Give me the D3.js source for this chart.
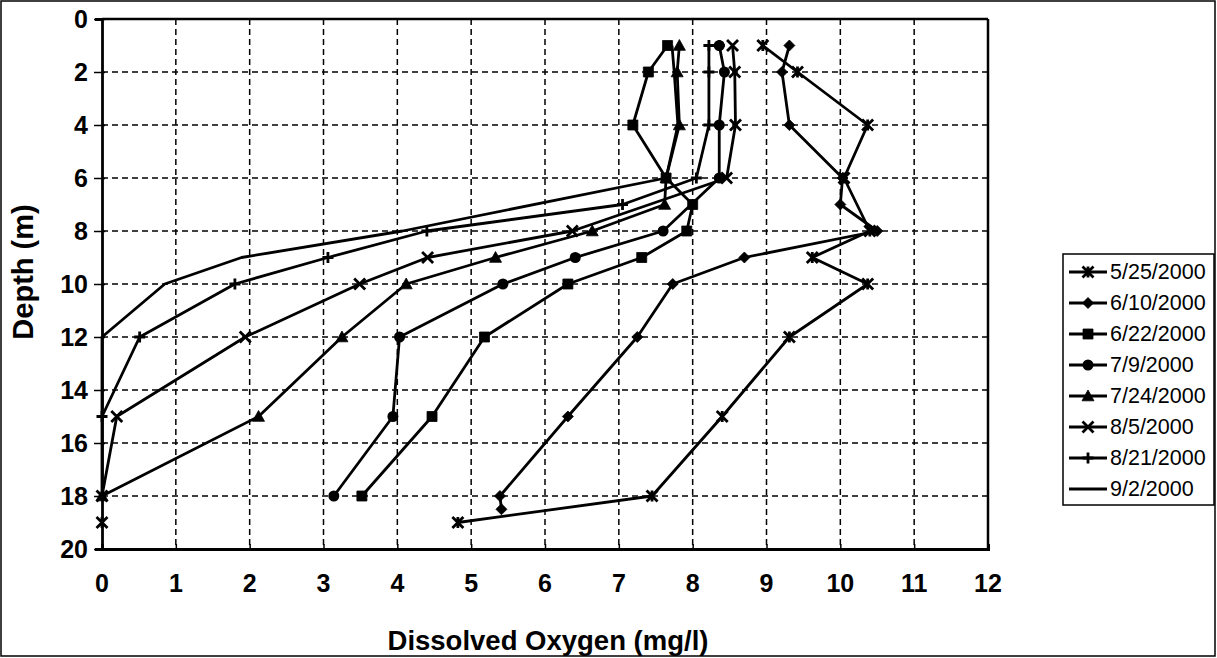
<!DOCTYPE html>
<html>
<head>
<meta charset="utf-8">
<script src="https://cdn.jsdelivr.net/npm/d3@7"></script>
<style>
  html, body { margin: 0; padding: 0; background: #fff; }
  svg { display: block; font-family: "Liberation Sans", Arial, sans-serif; }
</style>
</head>
<body>
<svg id="chart" width="1217" height="658"></svg>
<script>
// ---------- DATA ----------
const seriesNames = ["5/25/2000","6/10/2000","6/22/2000","7/9/2000","7/24/2000","8/5/2000","8/21/2000","9/2/2000"];
const markerTypes = ["asterisk","diamond","square","circle","triangle","x","plus","none"];

const do_0525    = [8.95, 9.42, 10.37, 10.05, 10.4, 9.62, 10.37, 9.31, 8.40, 7.45, 4.82];
const depth_0525 = [1, 2, 4, 6, 8, 9, 10, 12, 15, 18, 19];

const do_0610    = [9.31, 9.21, 9.31, 10.03, 10.0, 10.5, 8.70, 7.73, 7.25, 6.31, 5.39, 5.41];
const depth_0610 = [1, 2, 4, 6, 7, 8, 9, 10, 12, 15, 18, 18.5];

const do_0622    = [7.66, 7.40, 7.19, 7.64, 8.00, 7.92, 7.31, 6.31, 5.18, 4.47, 3.52];
const depth_0622 = [1, 2, 4, 6, 7, 8, 9, 10, 12, 15, 18];

const do_0709    = [8.36, 8.43, 8.36, 8.36, 7.60, 6.41, 5.43, 4.03, 3.94, 3.14];
const depth_0709 = [1, 2, 4, 6, 8, 9, 10, 12, 15, 18];

const do_0724    = [7.82, 7.79, 7.82, 7.64, 7.62, 6.64, 5.33, 4.12, 3.25, 2.12, 0];
const depth_0724 = [1, 2, 4, 6, 7, 8, 9, 10, 12, 15, 18];

const do_0805    = [8.54, 8.57, 8.58, 8.46, 6.37, 4.41, 3.49, 1.94, 0.2, 0];
const depth_0805 = [1, 2, 4, 6, 8, 9, 10, 12, 15, 18];

const do_0821    = [8.36, 8.22, 8.22, 8.22, 8.05, 7.05, 4.40, 3.06, 1.80, 0.51, 0];
const depth_0821 = [1, 1, 2, 4, 6, 7, 8, 9, 10, 12, 15];

const do_0902    = [7.72, 7.75, 7.80, 7.64, 4.07, 1.89, 0.85, 0, 0, 0];
const depth_0902 = [1, 2, 4, 6, 8, 9, 10, 12, 15, 18];

// isolated reading drawn with the 5/25 marker
const extraDO    = [0];
const extraDepth = [19];

const xTickValues = [0,1,2,3,4,5,6,7,8,9,10,11,12];
const yTickValues = [0,2,4,6,8,10,12,14,16,18,20];

const allDO    = [do_0525, do_0610, do_0622, do_0709, do_0724, do_0805, do_0821, do_0902];
const allDepth = [depth_0525, depth_0610, depth_0622, depth_0709, depth_0724, depth_0805, depth_0821, depth_0902];

const series = seriesNames.map((name, i) => ({
  name, marker: markerTypes[i],
  points: allDO[i].map((v, j) => ({ v, depth: allDepth[i][j] }))
}));

// ---------- LAYOUT ----------
const svg = d3.select("#chart");
const plot = { left: 102, right: 988, top: 19, bottom: 549 };

const x = d3.scaleLinear().domain([0, 12]).range([plot.left, plot.right]);
const y = d3.scaleLinear().domain([0, 20]).range([plot.top, plot.bottom]);

// outer chart border
svg.append("rect").attr("x", 1).attr("y", 1).attr("width", 1214).attr("height", 655)
  .attr("fill", "none").attr("stroke", "#000").attr("stroke-width", 1.5);

// grid
const grid = svg.append("g").attr("stroke", "#000").attr("stroke-width", 1.5)
  .attr("stroke-dasharray", "6,4");
grid.selectAll("line.v").data(xTickValues.filter(d => d > 0 && d < 12)).join("line")
  .attr("x1", d => x(d)).attr("x2", d => x(d))
  .attr("y1", plot.top).attr("y2", plot.bottom);
grid.selectAll("line.h").data(yTickValues.filter(d => d > 0 && d < 20)).join("line")
  .attr("y1", d => y(d)).attr("y2", d => y(d))
  .attr("x1", plot.left).attr("x2", plot.right);

// frame
svg.append("line").attr("x1", plot.left).attr("x2", plot.right).attr("y1", plot.top).attr("y2", plot.top)
  .attr("stroke", "#000").attr("stroke-width", 2.5);
svg.append("line").attr("x1", plot.right).attr("x2", plot.right).attr("y1", plot.top).attr("y2", plot.bottom)
  .attr("stroke", "#000").attr("stroke-width", 2.5);

// axes
const xAxis = d3.axisBottom(x).tickValues(xTickValues).tickSize(-5).tickPadding(0).tickFormat("");
const gx = svg.append("g").attr("transform", `translate(0,${plot.bottom})`).call(xAxis);
gx.select(".domain").attr("stroke-width", 3);
gx.selectAll(".tick line").attr("stroke-width", 1.5);

const yAxis = d3.axisLeft(y).tickValues(yTickValues).tickSize(7).tickFormat("");
const gy = svg.append("g").attr("transform", `translate(${plot.left},0)`).call(yAxis);
gy.select(".domain").attr("stroke-width", 2.8);
gy.selectAll(".tick line").attr("stroke-width", 1.5).attr("x2", -8).attr("x1", 3);

// tick labels
svg.append("g").selectAll("text").data(xTickValues).join("text")
  .attr("x", d => x(d)).attr("y", 583)
  .attr("text-anchor", "middle").attr("dominant-baseline", "central")
  .attr("font-size", 25).attr("font-weight", "bold").text(d => d);
svg.append("g").selectAll("text").data(yTickValues).join("text")
  .attr("x", 88).attr("y", d => y(d))
  .attr("text-anchor", "end").attr("dominant-baseline", "central")
  .attr("font-size", 25).attr("font-weight", "bold").text(d => d);

// axis titles
svg.append("text").attr("x", 548).attr("y", 640)
  .attr("text-anchor", "middle").attr("dominant-baseline", "central")
  .attr("font-size", 27.5).attr("font-weight", "bold").text("Dissolved Oxygen (mg/l)");
svg.append("text").attr("transform", "translate(23,272) rotate(-90)")
  .attr("text-anchor", "middle").attr("dominant-baseline", "central")
  .attr("font-size", 29).attr("font-weight", "bold").text("Depth (m)");

// ---------- MARKERS ----------
function markerPath(type) {
  switch (type) {
    case "square":   { const s = 5;   return `M${-s},${-s}H${s}V${s}H${-s}Z`; }
    case "diamond":  { const s = 5.5; return `M0,${-s}L${s},0L0,${s}L${-s},0Z`; }
    case "triangle": { const s = 6;   return `M0,${-s}L${s},${s*0.8}L${-s},${s*0.8}Z`; }
    case "x":        { const s = 5.5; return `M${-s},${-s}L${s},${s}M${-s},${s}L${s},${-s}`; }
    case "asterisk": { const s = 5.5; return `M${-s},${-s}L${s},${s}M${-s},${s}L${s},${-s}M0,${-s}V${s}`; }
    case "plus":     { const s = 5.5; return `M${-s},0H${s}M0,${-s}V${s}`; }
    default: return "";
  }
}
function drawMarker(g, type, cx, cy) {
  if (type === "none") return;
  if (type === "circle") {
    g.append("circle").attr("cx", cx).attr("cy", cy).attr("r", 5.5).attr("fill", "#000");
    return;
  }
  const filled = ["square","diamond","triangle"].includes(type);
  g.append("path").attr("d", markerPath(type))
    .attr("transform", `translate(${cx},${cy})`)
    .attr("fill", filled ? "#000" : "none")
    .attr("stroke", "#000").attr("stroke-width", filled ? 0.8 : 2.8);
}

// ---------- SERIES ----------
const line = d3.line().x(d => x(d.v)).y(d => y(d.depth));
const gs = svg.append("g");
series.forEach(s => {
  gs.append("path").attr("d", line(s.points)).attr("fill", "none")
    .attr("stroke", "#000").attr("stroke-width", 2.8).attr("stroke-linejoin", "round");
});
series.forEach(s => {
  const gm = gs.append("g");
  s.points.forEach(p => drawMarker(gm, s.marker, x(p.v), y(p.depth)));
});
extraDO.forEach((v, i) => drawMarker(gs, markerTypes[0], x(v), y(extraDepth[i])));

// ---------- LEGEND ----------
const lg = svg.append("g");
lg.append("rect").attr("x", 1063).attr("y", 254).attr("width", 151).attr("height", 251)
  .attr("fill", "#fff").attr("stroke", "#000").attr("stroke-width", 1.5);
series.forEach((s, i) => {
  const ly = 272 + i * 31;
  lg.append("line").attr("x1", 1069).attr("x2", 1107).attr("y1", ly).attr("y2", ly)
    .attr("stroke", "#000").attr("stroke-width", 2.8);
  drawMarker(lg, s.marker, 1088, ly);
  lg.append("text").attr("x", 1110).attr("y", ly).attr("dominant-baseline", "central")
    .attr("font-size", 21.5).text(s.name);
});
</script>
</body>
</html>
